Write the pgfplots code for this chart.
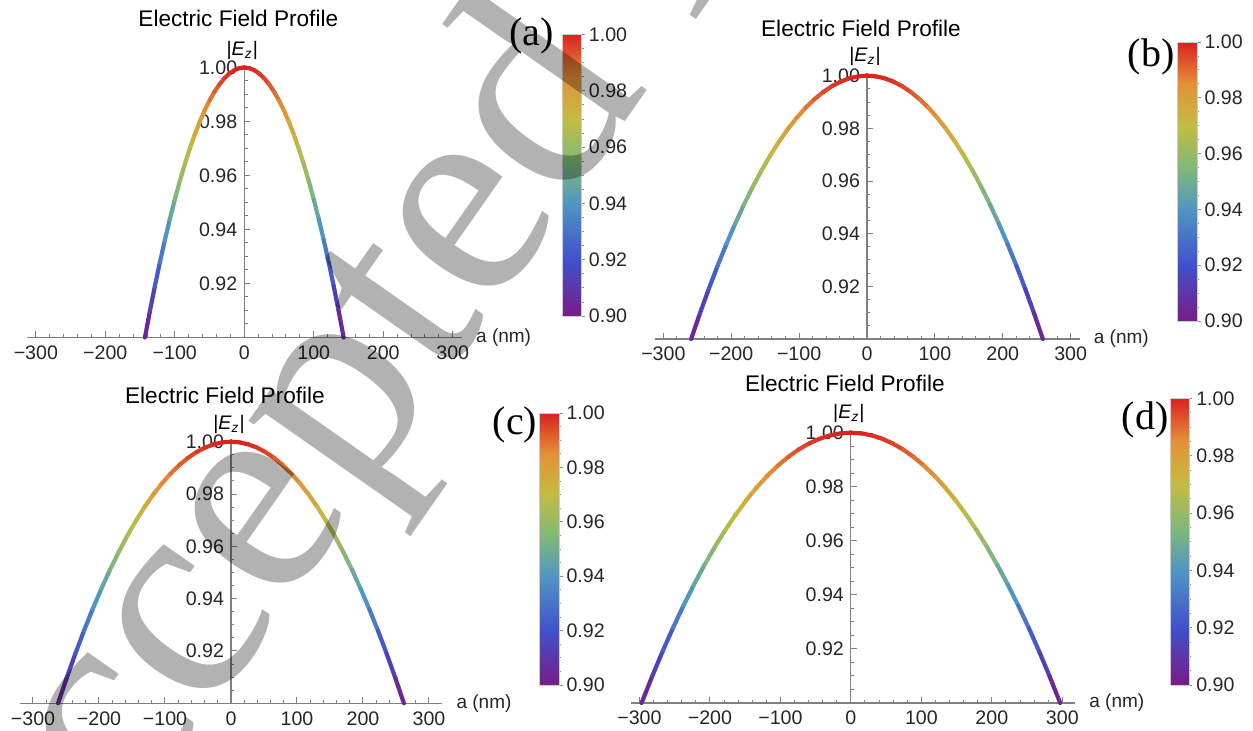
\documentclass[border=0pt]{standalone}
\usepackage{fontspec}
\setmainfont{Liberation Sans}
\newfontfamily\seriff{Liberation Serif}
\usepackage{pgfplots}
\usepackage{pgfplotstable}
\pgfplotsset{compat=1.18}

\pgfplotstableread{
y xa xb xc xd
0.9 -143 -259 -262 -297
0.90975 -135.85 -246.05 -248.9 -282.15
0.919 -128.7 -233.1 -235.8 -267.3
0.92775 -121.55 -220.15 -222.7 -252.45
0.936 -114.4 -207.2 -209.6 -237.6
0.94375 -107.25 -194.25 -196.5 -222.75
0.951 -100.1 -181.3 -183.4 -207.9
0.95775 -92.95 -168.35 -170.3 -193.05
0.964 -85.8 -155.4 -157.2 -178.2
0.96975 -78.65 -142.45 -144.1 -163.35
0.975 -71.5 -129.5 -131 -148.5
0.97975 -64.35 -116.55 -117.9 -133.65
0.984 -57.2 -103.6 -104.8 -118.8
0.98775 -50.05 -90.65 -91.7 -103.95
0.991 -42.9 -77.7 -78.6 -89.1
0.99375 -35.75 -64.75 -65.5 -74.25
0.996 -28.6 -51.8 -52.4 -59.4
0.99775 -21.45 -38.85 -39.3 -44.55
0.999 -14.3 -25.9 -26.2 -29.7
0.99975 -7.15 -12.95 -13.1 -14.85
1.0 0 0 0 0
0.99975 7.15 12.95 13.1 14.85
0.999 14.3 25.9 26.2 29.7
0.99775 21.45 38.85 39.3 44.55
0.996 28.6 51.8 52.4 59.4
0.99375 35.75 64.75 65.5 74.25
0.991 42.9 77.7 78.6 89.1
0.98775 50.05 90.65 91.7 103.95
0.984 57.2 103.6 104.8 118.8
0.97975 64.35 116.55 117.9 133.65
0.975 71.5 129.5 131 148.5
0.96975 78.65 142.45 144.1 163.35
0.964 85.8 155.4 157.2 178.2
0.95775 92.95 168.35 170.3 193.05
0.951 100.1 181.3 183.4 207.9
0.94375 107.25 194.25 196.5 222.75
0.936 114.4 207.2 209.6 237.6
0.92775 121.55 220.15 222.7 252.45
0.919 128.7 233.1 235.8 267.3
0.90975 135.85 246.05 248.9 282.15
0.9 143 259 262 297
}\curves

\newcommand{\tf}{\fontsize{9.8}{11.5}\selectfont}
\newcommand{\ttlf}{\fontsize{11.3}{13}\selectfont}
\newcommand{\lf}{\fontsize{9.5}{11}\selectfont}

\pgfplotsset{
  colormap={mrainbow}{rgb255(0cm)=(120,28,134); rgb255(2cm)=(65,80,205); rgb255(4cm)=(80,150,195); rgb255(5.5cm)=(130,185,120); rgb255(7cm)=(195,188,65); rgb255(8.5cm)=(228,145,55); rgb255(10cm)=(218,33,33)},
  efp/.style={
    scale only axis, clip=false,
    anchor=south west,
    axis x line*=bottom, axis y line*=middle,
    ymin=0.9, ymax=1.001,
    xtick={-300,-200,-100,0,100,200,300},
    xticklabels={−300,−200,−100,0,100,200,300},
    minor x tick num=4,
    ytick={0.92,0.94,0.96,0.98,1.0},
    yticklabels={0.92,0.94,0.96,0.98,1.00},
    minor ytick={0.905,0.91,0.915,0.925,0.93,0.935,0.945,0.95,0.955,0.965,0.97,0.975,0.985,0.99,0.995},
    tick align=inside,
    major tick length=3pt, minor tick length=1.7pt,
    axis line style={black!50, line width=0.55pt},
    every tick/.style={black!50, line width=0.5pt},
    tick label style={font=\tf, text=black!85},
    xticklabel style={yshift=-0.5pt},
    xlabel={a (nm)},
    xlabel style={at={(rel axis cs:1,0)}, anchor=west, xshift=7pt, inner sep=0pt, font=\lf, text=black!85},
    colormap name=mrainbow, point meta min=0.9, point meta max=1.0,
    colorbar right,
    colorbar shift/.style={},
    colorbar style={
      at={(parent axis.south west)}, anchor=south west,
      scale only axis,
      axis x line=box, axis y line=box,
      xlabel={}, xtick=\empty, xticklabels={},
      ytick={0.9,0.92,0.94,0.96,0.98,1.0},
      yticklabels={0.90,0.92,0.94,0.96,0.98,1.00},
      minor ytick={0.905,0.91,0.915,0.925,0.93,0.935,0.945,0.95,0.955,0.965,0.97,0.975,0.985,0.99,0.995},
      ytick pos=right, yticklabel pos=right,
      tick align=outside,
      major tick length=1.6pt, minor tick length=1pt,
      axis line style={black!20, line width=0.3pt},
      every tick/.style={black!45, line width=0.4pt},
      tick label style={font=\tf, text=black!85},
      yticklabel style={xshift=-1.5pt},
    },
  },
}

\begin{document}
\begin{tikzpicture}
\useasboundingbox (0pt,0pt) rectangle (626.5pt,365.5pt);

% (a)
\begin{axis}[efp, at={(13.4pt,196.75pt)}, width=217.5pt, height=136.35pt,
  xmin=-313, xmax=313,
  colorbar style={xshift=267.95pt, yshift=10.75pt, width=9.5pt, height=140.75pt}]
\addplot[mesh, line width=2.1pt, line cap=round, point meta=y] table[x=xa, y=y] {\curves};
\node[anchor=base, font=\ttlf] at (axis cs:0,1) [yshift=20.4pt, xshift=-3pt] {Electric Field Profile};
\node[font=\tf, inner sep=0pt] at (axis cs:0,1) [yshift=8.3pt, xshift=-1pt] {|\textit{E}\textsubscript{\textit{z}}|};
\end{axis}

% (b)
\begin{axis}[efp, at={(327.25pt,196pt)}, width=212.5pt, height=132.97pt,
  xmin=-313, xmax=313,
  colorbar style={xshift=261.4pt, yshift=9pt, width=10pt, height=139.5pt}]
\addplot[mesh, line width=2.1pt, line cap=round, point meta=y] table[x=xb, y=y] {\curves};
\node[anchor=base, font=\ttlf] at (axis cs:0,1) [yshift=19.5pt, xshift=-3pt] {Electric Field Profile};
\node[font=\tf, inner sep=0pt] at (axis cs:0,1) [yshift=9.5pt, xshift=-1pt] {|\textit{E}\textsubscript{\textit{z}}|};
\end{axis}

% (c)
\begin{axis}[efp, at={(9.9pt,13.85pt)}, width=211.2pt, height=132.1pt,
  xmin=-320, xmax=320,
  colorbar style={xshift=259.85pt, yshift=9.15pt, width=9.9pt, height=136pt}]
\addplot[mesh, line width=2.1pt, line cap=round, point meta=y] table[x=xc, y=y] {\curves};
\node[anchor=base, font=\ttlf] at (axis cs:0,1) [yshift=19.2pt, xshift=-3pt] {Electric Field Profile};
\node[font=\tf, inner sep=0pt] at (axis cs:0,1) [yshift=8.4pt, xshift=-1pt] {|\textit{E}\textsubscript{\textit{z}}|};
\end{axis}

% (d)
\begin{axis}[efp, at={(315.5pt,14pt)}, width=222pt, height=136.5pt,
  xmin=-312, xmax=318,
  colorbar style={xshift=269.5pt, yshift=9pt, width=9.5pt, height=143.35pt}]
\addplot[mesh, line width=2.1pt, line cap=round, point meta=y] table[x=xd, y=y] {\curves};
\node[anchor=base, font=\ttlf] at (axis cs:0,1) [yshift=20.5pt, xshift=-3pt] {Electric Field Profile};
\node[font=\tf, inner sep=0pt] at (axis cs:0,1) [yshift=9.7pt, xshift=-1pt] {|\textit{E}\textsubscript{\textit{z}}|};
\end{axis}

% panel letters
\node[font=\seriff\fontsize{20}{22}\selectfont, inner sep=0pt] at (265.65pt,347.6pt) {(a)};
\node[font=\seriff\fontsize{20}{22}\selectfont, inner sep=0pt] at (575.5pt,337.15pt) {(b)};
\node[font=\seriff\fontsize{20}{22}\selectfont, inner sep=0pt] at (257.5pt,153pt) {(c)};
\node[font=\seriff\fontsize{20}{22}\selectfont, inner sep=0pt] at (572.5pt,155.5pt) {(d)};

% watermark
\node[anchor=base west, rotate=55, inner sep=0pt, text=black, text opacity=0.3,
  font=\seriff\fontsize{148}{148}\selectfont] at (4pt,-136pt) {Accepted Manuscript};
\end{tikzpicture}
\end{document}
